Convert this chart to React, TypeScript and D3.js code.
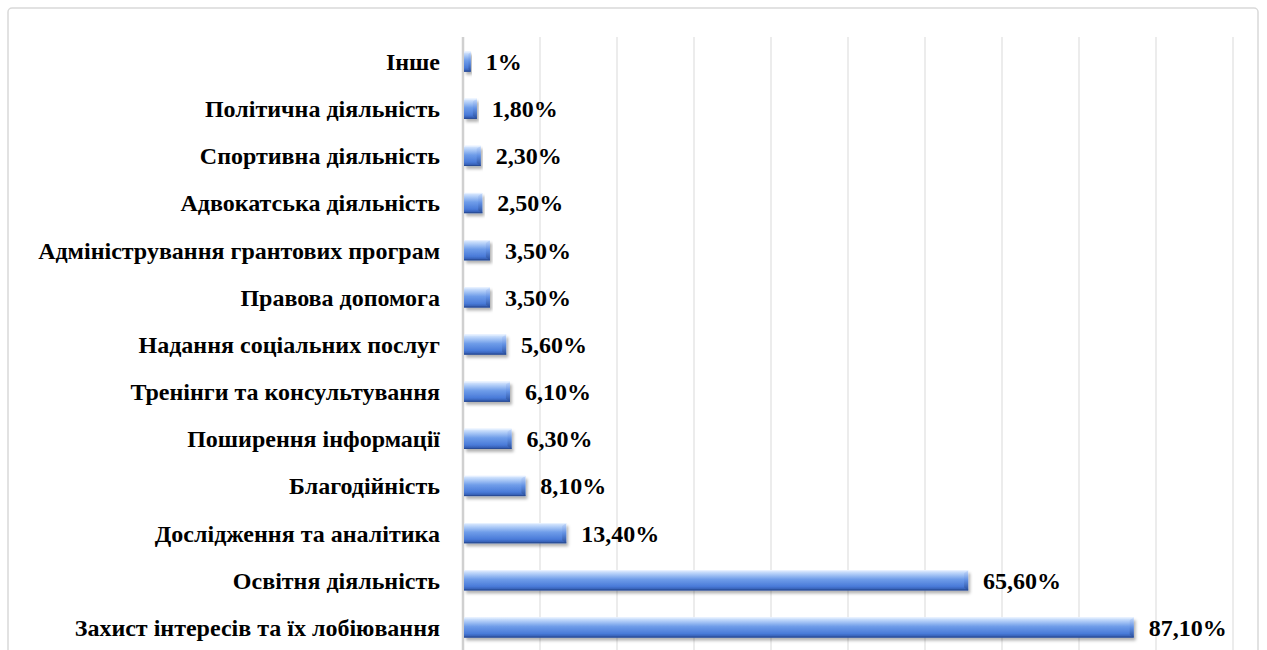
import * as d3 from 'd3';
import React from 'react';

const categories = [
  'Інше',
  'Політична діяльність',
  'Спортивна діяльність',
  'Адвокатська діяльність',
  'Адміністрування грантових програм',
  'Правова допомога',
  'Надання соціальних послуг',
  'Тренінги та консультування',
  'Поширення інформації',
  'Благодійність',
  'Дослідження та аналітика',
  'Освітня діяльність',
  'Захист інтересів та їх лобіювання',
];
const values = [1, 1.8, 2.3, 2.5, 3.5, 3.5, 5.6, 6.1, 6.3, 8.1, 13.4, 65.6, 87.1];
const valueLabels = ['1%', '1,80%', '2,30%', '2,50%', '3,50%', '3,50%', '5,60%', '6,10%', '6,30%', '8,10%', '13,40%', '65,60%', '87,10%'];
const gridTicks = [0, 10, 20, 30, 40, 50, 60, 70, 80, 90, 100];

export default function App() {
  const width = 1267;
  const height = 650;
  const marginLeft = 463;
  const marginRight = 34;
  const marginTop = 38;

  const x = d3.scaleLinear().domain([0, 100]).range([marginLeft, width - marginRight]);
  const y = d3.scaleBand<string>()
    .domain(categories)
    .range([marginTop, marginTop + 613])
    .paddingInner(0.57)
    .paddingOuter(0.285);
  const bh = y.bandwidth();
  const font = 'Liberation Serif';

  return (
    <svg width={width} height={height} viewBox={`0 0 ${width} ${height}`}
      style={{ position: 'absolute', left: 0, top: 0, background: '#fff' }}>
      <defs>
        <linearGradient id="barGrad" x1="0" y1="0" x2="0" y2="1">
          <stop offset="0" stopColor="#e2eeff" />
          <stop offset="0.18" stopColor="#b2cef8" />
          <stop offset="0.45" stopColor="#6f9de9" />
          <stop offset="0.8" stopColor="#4a7bd9" />
          <stop offset="1" stopColor="#2d54a6" />
        </linearGradient>
        <linearGradient id="capGrad" x1="0" y1="0" x2="0" y2="1">
          <stop offset="0" stopColor="#c9dcfb" />
          <stop offset="0.5" stopColor="#5f8ee2" />
          <stop offset="1" stopColor="#284c98" />
        </linearGradient>
        <filter id="shadow" x="-5%" y="-30%" width="115%" height="180%">
          <feDropShadow dx="2" dy="3" stdDeviation="1.8" floodColor="#000" floodOpacity="0.3" />
        </filter>
      </defs>

      <rect x={8} y={8} width={1250} height={700} rx={4} fill="#fff" stroke="#d9d9d9" strokeWidth={1.5} />

      {gridTicks.slice(1).map(t => (
        <line key={t} x1={x(t)} x2={x(t)} y1={marginTop - 1} y2={height} stroke="#d9d9d9" strokeWidth={1} />
      ))}
      <line x1={x(0)} x2={x(0)} y1={marginTop - 1} y2={height} stroke="#d0d0d0" strokeWidth={2.5} />

      {categories.map((c, i) => {
        const y0 = y(c)!;
        const x0 = x(0) + 1;
        const x1 = x(values[i]);
        const w = Math.max(1, x1 - x0);
        const bev = Math.min(4, w / 3);
        return (
          <g key={c}>
            <g filter="url(#shadow)">
              <rect x={x0} y={y0} width={w} height={bh} fill="url(#barGrad)" />
            </g>
            <polygon
              points={`${x1 - bev},${y0 + 3} ${x1},${y0} ${x1},${y0 + bh} ${x1 - bev},${y0 + bh - 3}`}
              fill="url(#capGrad)" opacity={0.9} />
            <line x1={x0} x2={x1} y1={y0 + 0.5} y2={y0 + 0.5} stroke="#e6f0ff" strokeWidth={1} />
            <line x1={x0} x2={x1} y1={y0 + bh - 0.5} y2={y0 + bh - 0.5} stroke="#2a4c95" strokeWidth={1} />
            <text x={440} y={y0 + bh / 2} dy="0.35em" textAnchor="end"
              fontFamily={font} fontWeight="bold" fontSize={24} fill="#000">{c}</text>
            <text x={x1 + 15} y={y0 + bh / 2} dy="0.35em" textAnchor="start"
              fontFamily={font} fontWeight="bold" fontSize={24} fill="#000">{valueLabels[i]}</text>
          </g>
        );
      })}
    </svg>
  );
}
